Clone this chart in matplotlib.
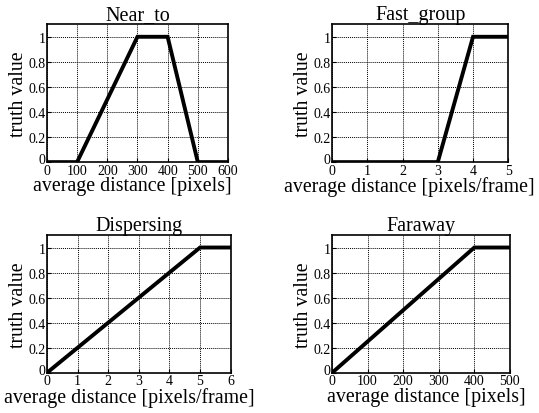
import matplotlib
matplotlib.use('Agg')
import matplotlib.pyplot as plt
import matplotlib.transforms as mtrans

plt.rcParams['font.family'] = ['Liberation Serif', 'DejaVu Serif']

# membership functions
near_x = [0, 100, 300, 400, 500, 600]
near_y = [0, 0, 1, 1, 0, 0]
fast_x = [0, 3, 4, 5]
fast_y = [0, 0, 1, 1]
disp_x = [0, 5, 6]
disp_y = [0, 1, 1]
far_x = [0, 400, 500]
far_y = [0, 1, 1]

yticks = [0, 0.2, 0.4, 0.6, 0.8, 1]
yticklabels = ['0', '0.2', '0.4', '0.6', '0.8', '1']

# title, x, y, xticks, xlabel, axes rect, xlabel centre (axes fraction)
panels = [
    ('Near_to', near_x, near_y, [0, 100, 200, 300, 400, 500, 600], 'average distance [pixels]',
     [0.087, 0.606, 0.336, 0.333], 0.47),
    ('Fast_group', fast_x, fast_y, [0, 1, 2, 3, 4, 5], 'average distance [pixels/frame]',
     [0.616, 0.606, 0.327, 0.333], 0.44),
    ('Dispersing', disp_x, disp_y, [0, 1, 2, 3, 4, 5, 6], 'average distance [pixels/frame]',
     [0.087, 0.097, 0.341, 0.333], 0.45),
    ('Faraway', far_x, far_y, [0, 100, 200, 300, 400, 500], 'average distance [pixels]',
     [0.616, 0.097, 0.330, 0.333], 0.53),
]

fig = plt.figure(figsize=(5.39, 4.14), dpi=100)

for title, x, y, xt, xlabel, pos, xc in panels:
    ax = fig.add_axes(pos)
    ax.plot(x, y, color='black', linewidth=2.8, solid_joinstyle='miter')
    ax.set_xlim(xt[0], xt[-1])
    ax.set_ylim(0, 1.1)
    ax.set_xticks(xt)
    ax.set_yticks(yticks)
    ax.set_yticklabels(yticklabels)
    ax.tick_params(direction='in', labelsize=10, length=3, pad=1)
    # MATLAB-style: the y "0" sits a little higher than the x "0"
    lab0 = ax.get_yticklabels()[0]
    lab0.set_transform(lab0.get_transform() +
                       mtrans.ScaledTranslation(0, 3 / 72, fig.dpi_scale_trans))
    ax.grid(True, color='black', linestyle=(0, (1, 1)), linewidth=0.7)
    for s in ax.spines.values():
        s.set_linewidth(1.2)
    ax.set_title(title, fontsize=14.5, pad=2)
    ax.set_xlabel(xlabel, fontsize=14.3, labelpad=-1)
    ax.xaxis.set_label_coords(xc, -0.1, transform=ax.transAxes)
    ax.xaxis.label.set_va('top')
    ax.set_ylabel('truth value', fontsize=14.3, labelpad=0)

plt.savefig('out.png', dpi=100)
